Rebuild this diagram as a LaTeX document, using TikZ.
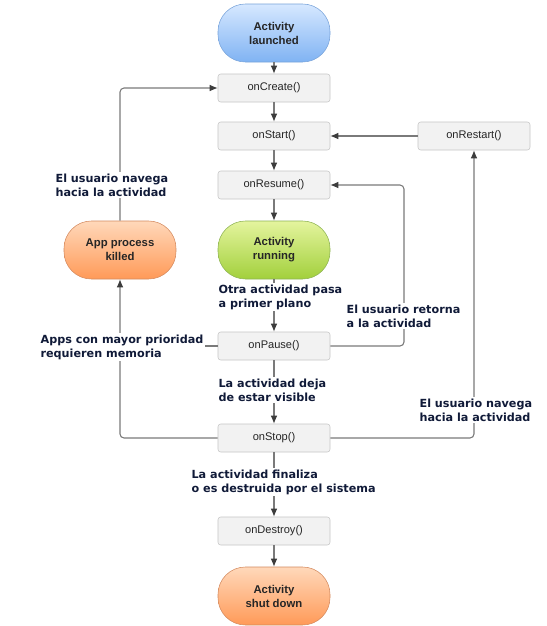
\documentclass[tikz,border=0pt]{standalone}
\usepackage{fontspec}
\setmainfont{Liberation Sans}
\newfontfamily\lblfont{DejaVu Sans}
\usepackage{tikz}
\usetikzlibrary{arrows.meta}

\definecolor{boxfill}{HTML}{F2F2F2}
\definecolor{boxline}{HTML}{C6C6C6}
\definecolor{wire}{HTML}{7A7A7A}
\definecolor{tipcol}{HTML}{3C3C3C}
\definecolor{lbltext}{HTML}{101A38}
\definecolor{blueT}{HTML}{D6E8FF}
\definecolor{blueB}{HTML}{80B3F3}
\definecolor{blueL}{HTML}{78A3DA}
\definecolor{greenT}{HTML}{E4F49E}
\definecolor{greenB}{HTML}{A2D03C}
\definecolor{greenL}{HTML}{8DB352}
\definecolor{orangeT}{HTML}{FFD8BA}
\definecolor{orangeB}{HTML}{FF9A58}
\definecolor{orangeL}{HTML}{D48A5E}

\begin{document}
\begin{tikzpicture}[x=0.75pt,y=-0.75pt,
    method/.style={draw=boxline,fill=boxfill,rounded corners=2pt,minimum width=84pt,minimum height=21pt,
        font=\fontsize{8.3}{10}\selectfont,text=black!85},
    pill/.style={draw=#1L,top color=#1T,bottom color=#1B,rounded corners=20.5pt,minimum width=84pt,minimum height=43.5pt,
        align=center,font=\bfseries\fontsize{8.5}{10.5}\selectfont,text=black!85},
    lbl/.style={anchor=west,fill=white,inner sep=1pt,align=left,text=lbltext,font=\lblfont\bfseries\fontsize{8.4}{10.5}\selectfont},
    arr/.style={draw=wire,line width=0.8pt,-{Latex[length=6pt,width=5pt,color=tipcol]}},
    wirel/.style={draw=wire,line width=0.8pt},
    corner/.style={rounded corners=3pt}]
                \useasboundingbox (0,0) rectangle (547,626);
                \fill [white] (0,0) rectangle (547,626);
                % main column
                \node [pill=blue] (launched) at (274,33) {Activity\\launched};
                \node [method] (create) at (274,88) {onCreate()};
                \node [method] (start) at (274,136) {onStart()};
                \node [method] (resume) at (274,185) {onResume()};
                \node [pill=green] (running) at (274,250) {Activity\\running};
                \node [method] (pause) at (274,346) {onPause()};
                \node [method] (stop) at (274,438) {onStop()};
                \node [method] (destroy) at (274,531) {onDestroy()};
                \node [pill=orange] (shutdown) at (274,596) {Activity\\shut down};
                % side nodes
                \node [pill=orange] (killed) at (120,250) {App process\\killed};
                \node [method] (restart) at (474,136) {onRestart()};
                \coordinate (back) at (404,185);
                % connectors
                \draw [arr] (launched) -- (create);
                \draw [arr] (create) -- (start);
                \draw [arr] (start) -- (resume);
                \draw [arr] (resume) -- (running);
                \draw [arr] (running) -- (pause);
                \draw [arr] (pause) -- (stop);
                \draw [arr] (stop) -- (destroy);
                \draw [arr] (destroy) -- (shutdown);
                \draw [arr] (restart) -- (start);
                \draw [arr,corner] (pause.east) -| (back) -- (resume.east);
                \draw [arr,corner] (stop.east) -| (restart.south);
                \draw [arr,corner] (stop.west) -| (killed.south);
                \draw [wirel] (pause.west) -- (pause.west -| killed.south);
                \draw [arr,corner] (killed.north) |- (create.west);
                % labels
                \node [lbl] (l1) at (54,185) {El usuario navega\\hacia la actividad};
                \node [lbl] (l2) at (217,297) {Otra actividad pasa\\a primer plano};
                \node [lbl] (l3) at (345,316) {El usuario retorna\\a la actividad};
                \node [lbl] (l4) at (39,347) {Apps con mayor prioridad\\requieren memoria};
                \node [lbl] (l5) at (217,390) {La actividad deja\\de estar visible};
                \node [lbl] (l6) at (418,410) {El usuario navega\\hacia la actividad};
                \node [lbl] (l7) at (190,482) {La actividad finaliza\\o es destruida por el sistema};
            \end{tikzpicture}
\end{document}
